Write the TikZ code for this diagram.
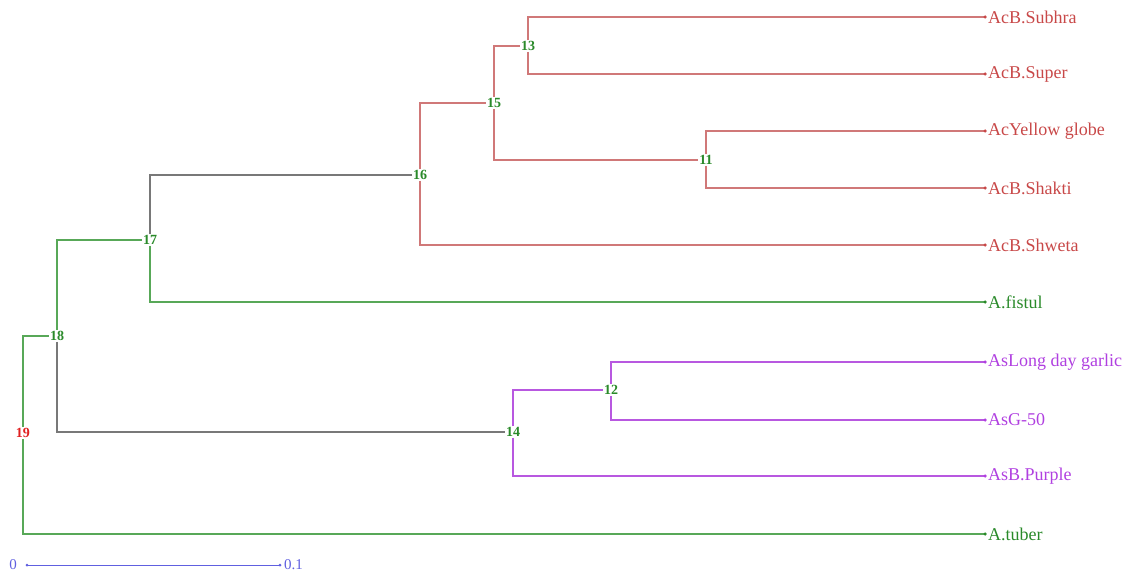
\documentclass[tikz,border=0pt]{standalone}
\usepackage{fontspec}
\setmainfont{Liberation Serif}
\definecolor{redl}{HTML}{D07878}
\definecolor{redt}{HTML}{C84848}
\definecolor{purl}{HTML}{B858E0}
\definecolor{purt}{HTML}{B040E0}
\definecolor{grnl}{HTML}{58A858}
\definecolor{grnt}{HTML}{2A8A2A}
\definecolor{gryl}{HTML}{787878}
\definecolor{blul}{HTML}{6060E0}
\definecolor{rootc}{HTML}{E02020}
\begin{document}
\begin{tikzpicture}[x=1pt,y=-1pt,
  inode/.style={font=\fontsize{14}{14}\selectfont\bfseries, text=grnt, fill=white, inner sep=1pt},
  leaf/.style={anchor=west, inner sep=3pt, font=\fontsize{18}{18}\selectfont},
  br/.style={line width=1.1pt},
  dotc/.style={circle, fill, inner sep=0pt, minimum size=3.5pt}]
\clip (0,0) rectangle (1124,575);
\useasboundingbox (0,0) rectangle (1124,575);
% leaf ends
\foreach \n/\y in {1/17,2/74,3/131,4/188,5/245,6/302,7/362,8/420,9/476,10/534}
  \coordinate (c\n) at (985,\y);
% internal nodes
\node[inode] (n13) at (528,46) {13};
\node[inode] (n15) at (494,103) {15};
\node[inode] (n11) at (706,160) {11};
\node[inode] (n16) at (420,175) {16};
\node[inode] (n17) at (150,240) {17};
\node[inode] (n18) at (57,336) {18};
\node[inode] (n12) at (611,390) {12};
\node[inode] (n14) at (513,432) {14};
\node[inode, text=rootc] (n19) at (23,433) {19};
% red clade
\draw[br, redl] (n13) |- (c1);
\draw[br, redl] (n13) |- (c2);
\draw[br, redl] (n11) |- (c3);
\draw[br, redl] (n11) |- (c4);
\draw[br, redl] (n15) |- (n13);
\draw[br, redl] (n15) |- (n11);
\draw[br, redl] (n16) |- (n15);
\draw[br, redl] (n16) |- (c5);
% 17
\draw[br, gryl] (n17) |- (n16);
\draw[br, grnl] (n17) |- (c6);
% purple clade
\draw[br, purl] (n12) |- (c7);
\draw[br, purl] (n12) |- (c8);
\draw[br, purl] (n14) |- (n12);
\draw[br, purl] (n14) |- (c9);
% 18
\draw[br, grnl] (n18) |- (n17);
\draw[br, gryl] (n18) |- (n14);
% root
\draw[br, grnl] (n19) |- (n18);
\draw[br, grnl] (n19) |- (c10);
% dots
\foreach \n/\c in {1/redt,2/redt,3/redt,4/redt,5/redt,6/grnt,7/purt,8/purt,9/purt,10/grnt}
  \node[dotc, \c] at (c\n) {};
% leaf labels
\node[leaf, text=redt] (l1) at (c1) {AcB.Subhra};
\node[leaf, text=redt] (l2) at (c2) {AcB.Super};
\node[leaf, text=redt] (l3) at (c3) {AcYellow globe};
\node[leaf, text=redt] (l4) at (c4) {AcB.Shakti};
\node[leaf, text=redt] (l5) at (c5) {AcB.Shweta};
\node[leaf, text=grnt] (l6) at (c6) {A.fistul};
\node[leaf, text=purt] (l7) at (c7) {AsLong day garlic};
\node[leaf, text=purt] (l8) at (c8) {AsG-50};
\node[leaf, text=purt] (l9) at (c9) {AsB.Purple};
\node[leaf, text=grnt] (l10) at (c10) {A.tuber};
% scale bar
\node[font=\fontsize{15}{15}\selectfont, text=blul, inner sep=1pt] (s0) at (13,565) {0};
\node[font=\fontsize{15}{15}\selectfont, text=blul, inner sep=1pt, anchor=west] (s1) at (283,565) {0.1};
\coordinate (sa) at (27,565);
\coordinate (sb) at (280,565);
\draw[blul, line width=1pt] (sa) -- (sb);
\node[dotc, blul, minimum size=3pt] at (sa) {};
\node[dotc, blul, minimum size=3pt] at (sb) {};
\end{tikzpicture}
\end{document}
